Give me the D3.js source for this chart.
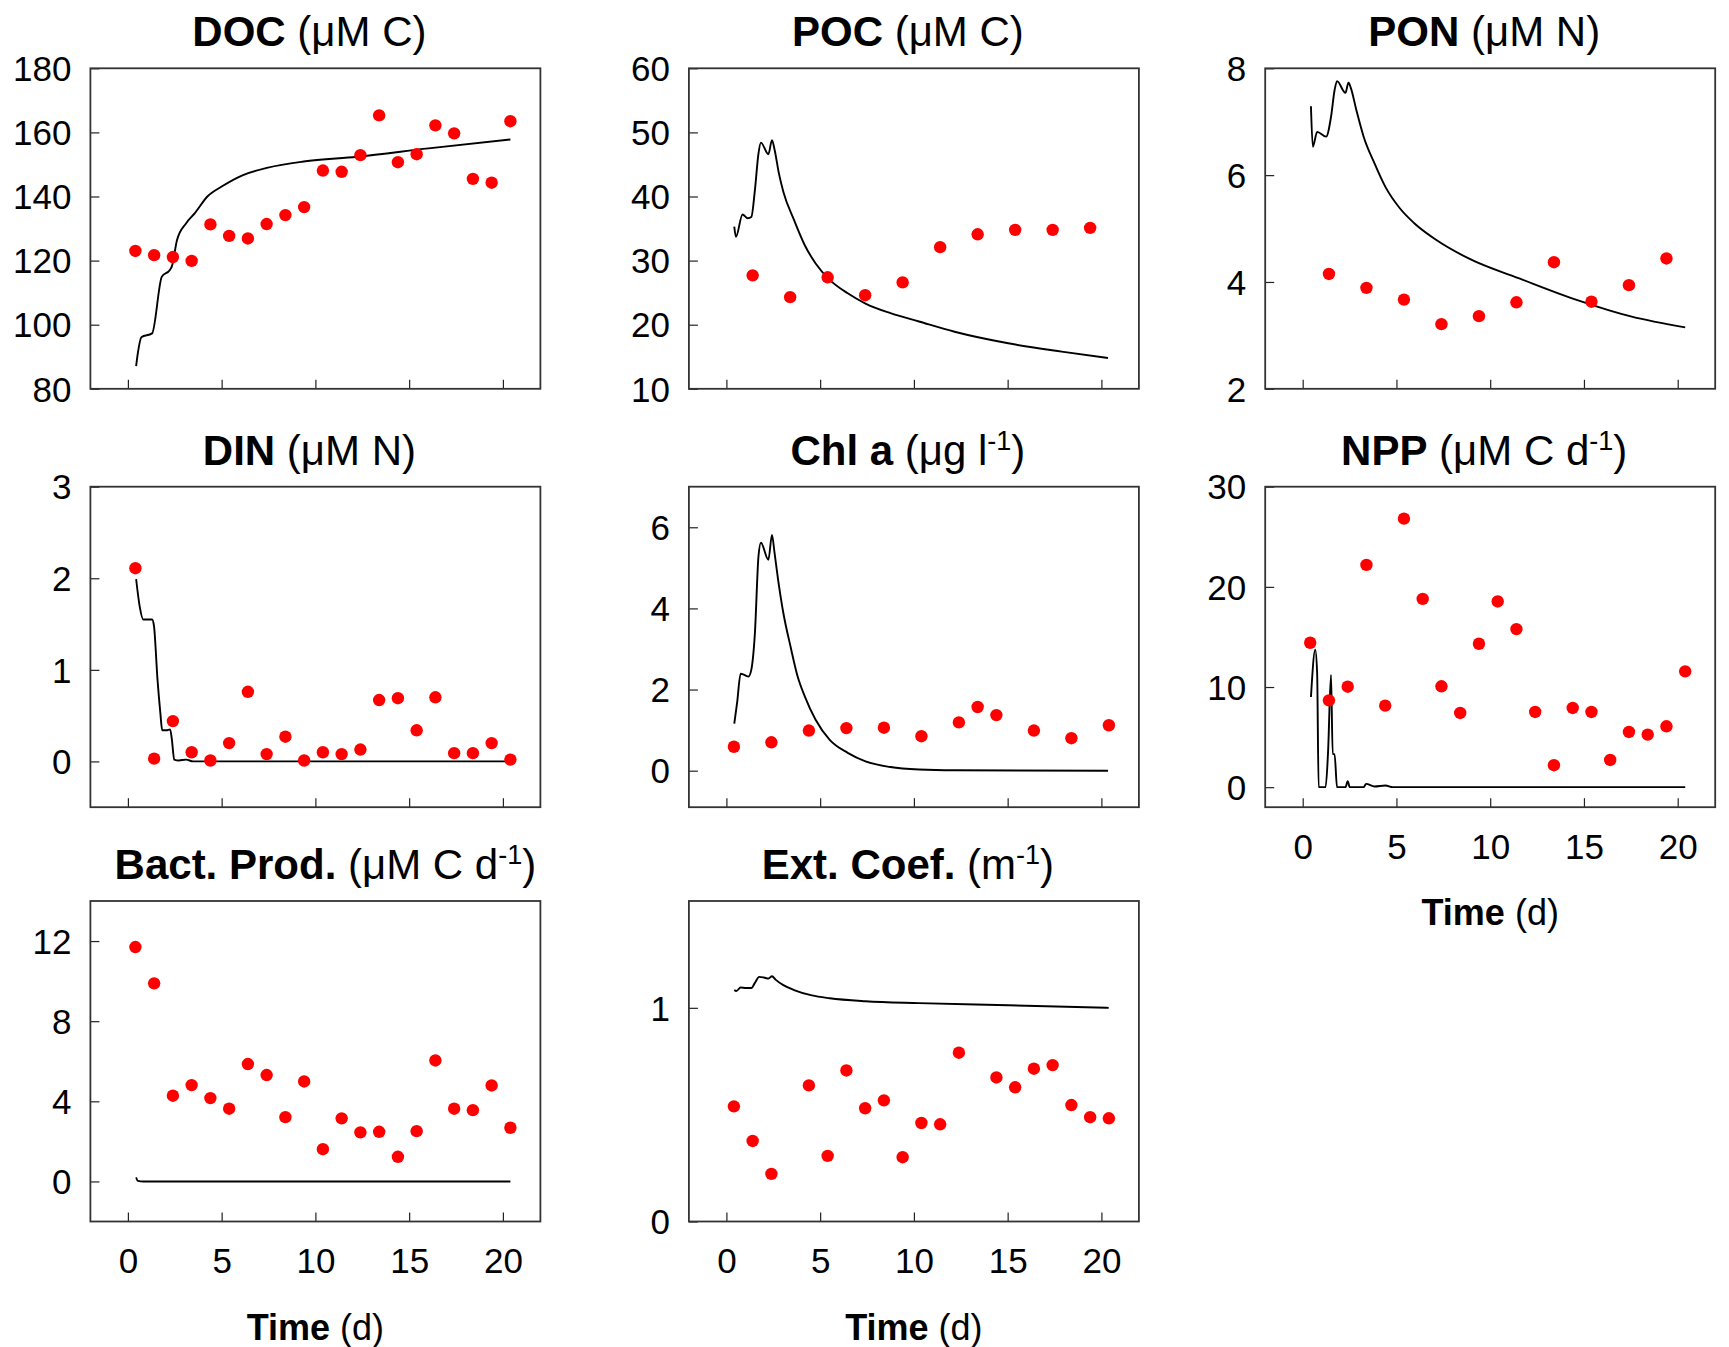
<!DOCTYPE html>
<html>
<head>
<meta charset="utf-8">
<script src="https://cdn.jsdelivr.net/npm/d3@7"></script>
<style>
  html, body { margin: 0; padding: 0; background: #fff; }
  svg { display: block; }
  text { font-family: "Liberation Sans", Arial, Helvetica, sans-serif; fill: #000; }
</style>
</head>
<body>
<script>
// ---------------- DATA ----------------
const xTicks = [0, 5, 10, 15, 20];

// DOC (µM C)
const docTicks = [80, 100, 120, 140, 160, 180];
const docObsT = [0.4,1.4,2.4,3.4,4.4,5.4,6.4,7.4,8.4,9.4,10.4,11.4,12.4,13.4,14.4,15.4,16.4,17.4,18.4,19.4,20.4];
const docObs  = [123.0,121.7,121.1,119.9,131.3,127.7,126.9,131.4,134.2,136.7,148.1,147.7,152.9,165.3,150.7,153.2,162.2,159.7,145.5,144.3,163.5];
const docModT = [0.44,0.53,0.72,1.29,1.81,2.24,2.34,2.62,3.10,3.57,4.24,5.0,6.14,7.47,9.37,12.22,16.03,20.4];
const docMod  = [87.1,91.1,96.1,97.3,115.0,117.1,118.1,126.4,131.6,134.8,140.0,143.1,146.7,149.0,150.9,152.4,155.0,157.8];

// POC (µM C)
const pocTicks = [10, 20, 30, 40, 50, 60];
const pocObsT = [1.4,3.4,5.4,7.4,9.4,11.4,13.4,15.4,17.4,19.4];
const pocObs  = [27.7,24.3,27.4,24.6,26.6,32.1,34.1,34.8,34.8,35.1];
const pocModT = [0.42,0.51,0.86,1.14,1.33,1.52,1.71,1.84,2.24,2.43,2.57,2.80,3.04,3.61,4.18,4.75,5.51,6.47,7.42,8.75,10.27,12.17,15.03,17.88,20.35];
const pocMod  = [35.3,33.7,37.2,36.6,36.8,41.0,46.7,48.4,46.6,48.8,47.3,43.6,40.7,36.3,32.4,29.6,27.0,24.9,23.3,21.8,20.5,18.9,17.1,15.8,14.8];

// PON (µM N)
const ponTicks = [2, 4, 6, 8];
const ponObsT = [1.4,3.4,5.4,7.4,9.4,11.4,13.4,15.4,17.4,19.4];
const ponObs  = [4.15,3.89,3.67,3.21,3.36,3.62,4.37,3.63,3.94,4.44];
const ponModT = [0.44,0.54,0.77,1.25,1.51,1.70,1.83,2.28,2.44,2.57,2.86,3.25,3.83,4.41,5.18,5.95,7.11,8.85,11.75,14.65,17.55,20.4];
const ponMod  = [7.29,6.53,6.81,6.72,7.09,7.59,7.76,7.54,7.73,7.63,7.22,6.72,6.22,5.78,5.38,5.10,4.79,4.44,4.04,3.66,3.35,3.15];

// DIN (µM N)
const dinTicks = [0, 1, 2, 3];
const dinObsT = [0.4,1.4,2.4,3.4,4.4,5.4,6.4,7.4,8.4,9.4,10.4,11.4,12.4,13.4,14.4,15.4,16.4,17.4,18.4,19.4,20.4];
const dinObs  = [2.11,0.03,0.44,0.10,0.01,0.20,0.76,0.08,0.27,0.01,0.10,0.08,0.13,0.67,0.69,0.34,0.70,0.09,0.09,0.20,0.02];
const dinModT = [0.44,0.63,0.82,1.29,1.39,1.58,1.73,1.83,2.06,2.25,2.34,2.47,2.72,3.10,3.48,20.4];
const dinMod  = [1.99,1.69,1.55,1.55,1.48,0.89,0.53,0.34,0.34,0.35,0.25,0.02,0.01,0.02,0,0];

// Chl a (µg l-1)
const chlTicks = [0, 2, 4, 6];
const chlObsT = [0.4,2.4,4.4,6.4,8.4,10.4,12.4,13.4,14.4,16.4,18.4,20.4];
const chlObs  = [0.59,0.70,0.99,1.05,1.06,0.85,1.19,1.57,1.37,0.99,0.80,1.12];
const chlModT = [0.42,0.57,0.76,0.95,1.18,1.33,1.52,1.71,1.84,2.24,2.43,2.57,2.76,3.04,3.42,3.80,4.18,4.75,5.51,6.47,7.42,8.75,10.27,12.17,20.35];
const chlMod  = [1.16,1.67,2.39,2.36,2.32,2.49,3.39,5.28,5.62,5.20,5.81,5.36,4.70,3.88,3.06,2.32,1.83,1.26,0.76,0.44,0.23,0.09,0.03,0.01,0];

// NPP (µM C d-1)
const nppTicks = [0, 10, 20, 30];
const nppObsT = [0.4,1.4,2.4,3.4,4.4,5.4,6.4,7.4,8.4,9.4,10.4,11.4,12.4,13.4,14.4,15.4,16.4,17.4,18.4,19.4,20.4];
const nppObs  = [14.42,8.67,10.03,22.19,8.14,26.81,18.80,10.07,7.41,14.32,18.54,15.78,7.51,2.19,7.91,7.51,2.72,5.51,5.25,6.08,11.56];
const nppModT = [0.44,0.67,0.77,0.85,1.22,1.35,1.51,1.60,1.70,1.83,2.28,2.40,2.51,3.25,3.38,3.83,4.41,4.80,20.4];
const nppMod  = [9.0,13.72,11.4,0,0,3.4,11.2,3.3,3.3,0,0,0.6,0,0,0.33,0.07,0.17,0,0];

// Bact. Prod. (µM C d-1)
const bpTicks = [0, 4, 8, 12];
const bpObsT = [0.4,1.4,2.4,3.4,4.4,5.4,6.4,7.4,8.4,9.4,10.4,11.4,12.4,13.4,14.4,15.4,16.4,17.4,18.4,19.4,20.4];
const bpObs  = [11.70,9.89,4.28,4.81,4.16,3.63,5.86,5.31,3.21,4.99,1.61,3.15,2.45,2.48,1.23,2.51,6.04,3.63,3.56,4.79,2.68];
const bpModT = [0.44,0.53,0.82,20.4];
const bpMod  = [0.2,0.03,0,0];

// Ext. Coef. (m-1)
const extTicks = [0, 1];
const extObsT = [0.4,1.4,2.4,4.4,5.4,6.4,7.4,8.4,9.4,10.4,11.4,12.4,14.4,15.4,16.4,17.4,18.4,19.4,20.4];
const extObs  = [0.539,0.377,0.223,0.637,0.307,0.707,0.530,0.567,0.301,0.461,0.455,0.790,0.674,0.628,0.715,0.732,0.545,0.488,0.483];
const extModT = [0.42,0.53,0.76,1.04,1.33,1.52,1.75,2.0,2.24,2.43,2.62,3.04,3.61,4.56,5.51,7.42,10.27,15.03,20.39];
const extMod  = [1.083,1.079,1.095,1.093,1.093,1.117,1.145,1.142,1.137,1.148,1.132,1.106,1.083,1.058,1.045,1.031,1.022,1.012,1.0];

// ---------------- PANELS ----------------
const panels = [
  {bold:"DOC", rest:" (\u03bcM C)", sup:null, tail:"", dom:[80,180], ticks:docTicks, ot:docObsT, ov:docObs, mt:docModT, mv:docMod, col:0, row:0, xl:false, toff:-6},
  {bold:"POC", rest:" (\u03bcM C)", sup:null, tail:"", dom:[10,60], ticks:pocTicks, ot:pocObsT, ov:pocObs, mt:pocModT, mv:pocMod, col:1, row:0, xl:false, toff:-6},
  {bold:"PON", rest:" (\u03bcM N)", sup:null, tail:"", dom:[2,8], ticks:ponTicks, ot:ponObsT, ov:ponObs, mt:ponModT, mv:ponMod, col:2, row:0, xl:false, toff:-6},
  {bold:"DIN", rest:" (\u03bcM N)", sup:null, tail:"", dom:[-0.5,3], ticks:dinTicks, ot:dinObsT, ov:dinObs, mt:dinModT, mv:dinMod, col:0, row:1, xl:false, toff:-6},
  {bold:"Chl a", rest:" (\u03bcg l", sup:"-1", tail:")", dom:[-0.9,7], ticks:chlTicks, ot:chlObsT, ov:chlObs, mt:chlModT, mv:chlMod, col:1, row:1, xl:false, toff:-6},
  {bold:"NPP", rest:" (\u03bcM C d", sup:"-1", tail:")", dom:[-2,30], ticks:nppTicks, ot:nppObsT, ov:nppObs, mt:nppModT, mv:nppMod, col:2, row:1, xl:true, toff:-6},
  {bold:"Bact. Prod.", rest:" (\u03bcM C d", sup:"-1", tail:")", dom:[-2,14], ticks:bpTicks, ot:bpObsT, ov:bpObs, mt:bpModT, mv:bpMod, col:0, row:2, xl:true, toff:10},
  {bold:"Ext. Coef.", rest:" (m", sup:"-1", tail:")", dom:[0,1.5], ticks:extTicks, ot:extObsT, ov:extObs, mt:extModT, mv:extMod, col:1, row:2, xl:true, toff:-6}
];

const W = 1729, H = 1347;
const colX = [90.4, 688.9, 1265.2];
const rowY = [68.3, 486.7, 901];
const pw = 450, ph = 320.5;

const svg = d3.select("body").append("svg").attr("width", W).attr("height", H);

panels.forEach(p => {
  const x0 = colX[p.col], y0 = rowY[p.row];
  const g = svg.append("g").attr("transform", `translate(${x0},${y0})`);
  const x = d3.scaleLinear().domain([-2, 22]).range([0, pw]);
  const y = d3.scaleLinear().domain(p.dom).range([ph, 0]);

  // x axis (inward ticks)
  const xa = g.append("g").attr("transform", `translate(0,${ph})`)
    .call(d3.axisBottom(x).tickValues(xTicks).tickSizeInner(-9).tickSizeOuter(0).tickPadding(27)
      .tickFormat(p.xl ? d3.format("d") : () => ""));
  xa.select(".domain").remove();
  xa.selectAll("line").attr("stroke", "#222").attr("stroke-width", 1.2);
  xa.selectAll("text").attr("font-size", 35).attr("font-family", "Liberation Sans, Arial, sans-serif").attr("fill", "#000");

  // y axis (inward ticks)
  const ya = g.append("g")
    .call(d3.axisLeft(y).tickValues(p.ticks).tickSizeInner(-9).tickSizeOuter(0).tickPadding(19)
      .tickFormat(d3.format("d")));
  ya.select(".domain").remove();
  ya.selectAll("line").attr("stroke", "#222").attr("stroke-width", 1.2);
  ya.selectAll("text").attr("font-size", 35).attr("font-family", "Liberation Sans, Arial, sans-serif").attr("fill", "#000").attr("dy", "0.35em");

  // frame
  g.append("rect").attr("x", 0).attr("y", 0).attr("width", pw).attr("height", ph)
    .attr("fill", "none").attr("stroke", "#333").attr("stroke-width", 1.8);

  // model line
  const line = d3.line().curve(d3.curveMonotoneX).x(d => x(d[0])).y(d => y(d[1]));
  g.append("path").datum(d3.zip(p.mt, p.mv)).attr("d", line)
    .attr("fill", "none").attr("stroke", "#000").attr("stroke-width", 1.9).attr("stroke-linejoin", "round");

  // observations
  g.selectAll("circle.obs").data(d3.zip(p.ot, p.ov)).join("circle").attr("class", "obs")
    .attr("cx", d => x(d[0])).attr("cy", d => y(d[1])).attr("r", 6.2).attr("fill", "#ff0000");

  // title
  const t = g.append("text").attr("x", pw / 2 + p.toff).attr("y", -22)
    .attr("text-anchor", "middle").attr("font-size", 42);
  t.append("tspan").attr("font-weight", "bold").text(p.bold);
  t.append("tspan").text(p.rest);
  if (p.sup) {
    t.append("tspan").attr("font-size", 27).attr("dy", -15).text(p.sup);
    t.append("tspan").attr("dy", 15).text(p.tail);
  }

  // x axis title
  if (p.xl) {
    const tx = g.append("text").attr("x", pw / 2).attr("y", ph + 118)
      .attr("text-anchor", "middle").attr("font-size", 36);
    tx.append("tspan").attr("font-weight", "bold").text("Time");
    tx.append("tspan").text(" (d)");
  }
});
</script>
</body>
</html>
